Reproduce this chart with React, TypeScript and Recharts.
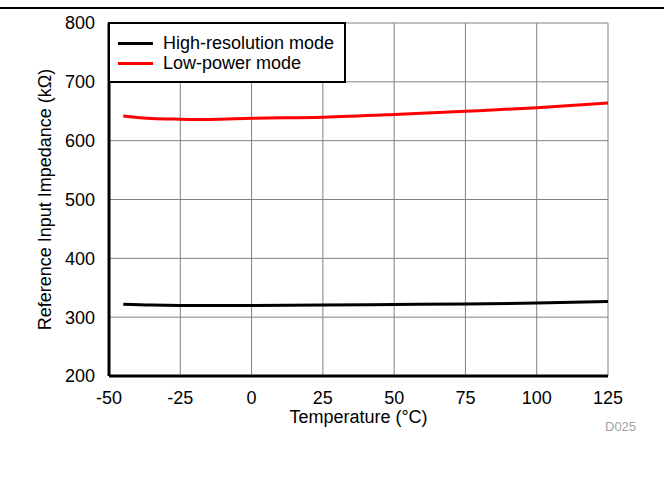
import { LineChart, Line, XAxis, YAxis, CartesianGrid, Label } from 'recharts'

const temperatures = [-45, -35, -25, -15, 0, 25, 50, 75, 100, 125]
const highResolution = [322, 320.5, 320, 320, 320, 320.5, 321.5, 322.5, 324, 326.5]
const lowPower = [642, 637.5, 636.5, 636, 638, 640, 644.5, 650, 656, 664]

const xTicks = [-50, -25, 0, 25, 50, 75, 100, 125]
const yTicks = [200, 300, 400, 500, 600, 700, 800]

const SERIES = [
  { key: 'high', name: 'High-resolution mode', color: '#000000' },
  { key: 'low', name: 'Low-power mode', color: '#ff0000' },
]

const data = temperatures.map((t, i) => ({ t, high: highResolution[i], low: lowPower[i] }))

const FONT = '"Liberation Sans", Arial, sans-serif'
const FS = 18

// legend drawn as an overlay so it doesn't shrink the plot area
function LegendBox() {
  return (
    <div
      style={{
        position: 'absolute',
        left: 108,
        top: 22,
        border: '2px solid #000',
        background: '#fff',
        padding: '9px 8px 8px 8px',
        fontFamily: FONT,
        fontSize: FS,
        lineHeight: '20px',
        color: '#000',
        boxSizing: 'border-box',
        width: 238,
      }}
    >
      {SERIES.map((s) => (
        <div key={s.key} style={{ display: 'flex', alignItems: 'center' }}>
          <span style={{ display: 'inline-block', width: 35, height: 3, background: s.color, marginRight: 10 }} />
          <span>{s.name}</span>
        </div>
      ))}
    </div>
  )
}

export default function App() {
  return (
    <div style={{ position: 'absolute', left: 0, top: 0, width: 664, height: 504, background: '#fff' }}>
      <div style={{ position: 'absolute', left: 0, top: 7, width: 664, height: 2, background: '#000' }} />
      <LineChart
        width={664}
        height={504}
        data={data}
        margin={{ top: 23, right: 56, bottom: 68, left: 49 }}
        style={{ fontFamily: FONT }}
      >
        <CartesianGrid stroke="#808080" strokeWidth={1} />
        <XAxis
          dataKey="t"
          type="number"
          domain={[-50, 125]}
          ticks={xTicks}
          interval={0}
          height={60}
          axisLine={{ stroke: '#000', strokeWidth: 3 }}
          tickLine={false}
          tick={{ fill: '#000', fontSize: FS }}
          tickMargin={9}
        >
          <Label
            content={({ viewBox }: any) => (
              <text
                x={viewBox.x + viewBox.width / 2}
                y={viewBox.y + 47}
                textAnchor="middle"
                fontSize={FS}
                fill="#000"
                fontFamily={FONT}
              >
                Temperature (°C)
              </text>
            )}
          />
        </XAxis>
        <XAxis
          xAxisId="top"
          orientation="top"
          type="number"
          domain={[-50, 125]}
          height={0}
          tick={false}
          tickLine={false}
          axisLine={{ stroke: '#000', strokeWidth: 3 }}
        />
        <YAxis
          type="number"
          domain={[200, 800]}
          ticks={yTicks}
          interval={0}
          width={60}
          axisLine={{ stroke: '#000', strokeWidth: 3 }}
          tickLine={false}
          tick={{ fill: '#000', fontSize: FS }}
          tickMargin={8}
        >
          <Label
            content={({ viewBox }: any) => {
              const x = viewBox.x - 4
              const y = viewBox.y + viewBox.height / 2
              return (
                <text
                  x={x}
                  y={y}
                  transform={`rotate(-90 ${x} ${y})`}
                  textAnchor="middle"
                  dominantBaseline="central"
                  fontSize={FS}
                  fill="#000"
                  fontFamily={FONT}
                >
                  Reference Input Impedance (kΩ)
                </text>
              )
            }}
          />
        </YAxis>
        <YAxis
          yAxisId="right"
          orientation="right"
          type="number"
          domain={[200, 800]}
          width={0}
          tick={false}
          tickLine={false}
          axisLine={{ stroke: '#000', strokeWidth: 3 }}
        />
        {SERIES.map((s) => (
          <Line
            key={s.key}
            dataKey={s.key}
            name={s.name}
            type="monotone"
            stroke={s.color}
            strokeWidth={3}
            dot={false}
            activeDot={false}
            isAnimationActive={false}
          />
        ))}
      </LineChart>
      <LegendBox />
      <div
        style={{
          position: 'absolute',
          left: 605,
          top: 419,
          fontFamily: FONT,
          fontSize: 13,
          color: '#a0a0a0',
        }}
      >
        D025
      </div>
    </div>
  )
}
